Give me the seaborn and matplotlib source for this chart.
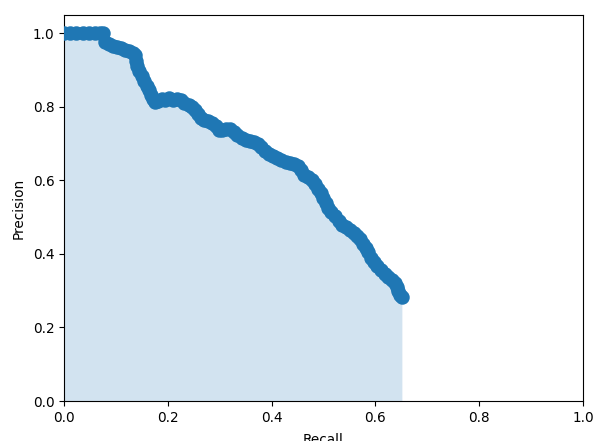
import numpy as np
import pandas as pd
import matplotlib
matplotlib.use("Agg")
import matplotlib.pyplot as plt
import seaborn as sns

recall = [0.0, 0.012, 0.024, 0.036, 0.048, 0.06, 0.07, 0.075,
          0.079, 0.086, 0.094, 0.102, 0.110, 0.118, 0.126, 0.133, 0.137, 0.138,
          0.140, 0.145, 0.150, 0.155, 0.160, 0.163, 0.167, 0.171, 0.176, 0.182,
          0.188, 0.195, 0.202, 0.210, 0.218, 0.225, 0.232, 0.240, 0.247, 0.253,
          0.258, 0.264, 0.270, 0.278, 0.285, 0.292, 0.298, 0.305, 0.312, 0.320,
          0.327, 0.334, 0.342, 0.350, 0.358, 0.366, 0.374, 0.380, 0.387, 0.395,
          0.403, 0.411, 0.419, 0.427, 0.435, 0.443, 0.450, 0.456, 0.463, 0.470,
          0.477, 0.484, 0.490, 0.495, 0.499, 0.504, 0.509, 0.515, 0.522, 0.529,
          0.536, 0.543, 0.551, 0.558, 0.565, 0.571, 0.576, 0.581, 0.586, 0.592,
          0.598, 0.604, 0.611, 0.618, 0.625, 0.632, 0.638, 0.641, 0.643, 0.648,
          0.651]
precision = [1.0, 1.0, 1.0, 1.0, 1.0, 1.0, 1.0, 1.0,
             0.976, 0.972, 0.965, 0.962, 0.960, 0.955, 0.951, 0.947, 0.940, 0.925,
             0.912, 0.897, 0.884, 0.870, 0.858, 0.845, 0.832, 0.822, 0.814, 0.816,
             0.822, 0.820, 0.823, 0.820, 0.822, 0.818, 0.810, 0.804, 0.800, 0.792,
             0.782, 0.770, 0.765, 0.763, 0.757, 0.748, 0.738, 0.736, 0.740, 0.739,
             0.731, 0.724, 0.716, 0.710, 0.706, 0.704, 0.700, 0.690, 0.680, 0.673,
             0.667, 0.662, 0.656, 0.650, 0.648, 0.646, 0.640, 0.628, 0.616, 0.608,
             0.600, 0.590, 0.578, 0.565, 0.552, 0.538, 0.525, 0.513, 0.502, 0.490,
             0.480, 0.472, 0.465, 0.458, 0.450, 0.440, 0.428, 0.416, 0.404, 0.390,
             0.378, 0.366, 0.355, 0.345, 0.337, 0.330, 0.322, 0.310, 0.298, 0.287,
             0.284]

ticks = [0.0, 0.2, 0.4, 0.6, 0.8, 1.0]
tick_labels = ["0.0", "0.2", "0.4", "0.6", "0.8", "1.0"]

df = pd.DataFrame({"Recall": recall, "Precision": precision})

plt.rcParams["font.family"] = ["DejaVu Sans"]
plt.rcParams["font.size"] = 9.8

fig = plt.figure(figsize=(5.96, 4.41), dpi=100)
ax = fig.add_axes([0.1074, 0.0907, 0.8708, 0.8753])

blue = "#1f77b4"
ax.fill_between(df["Recall"], df["Precision"], color=blue, alpha=0.2, linewidth=0)
sns.scatterplot(data=df, x="Recall", y="Precision", ax=ax, s=85, color=blue,
                edgecolor=blue, linewidth=1.2, zorder=3)

ax.set_xlim(0, 1)
ax.set_ylim(0, 1.05)
ax.set_xticks(ticks)
ax.set_xticklabels(tick_labels)
ax.set_yticks(ticks)
ax.set_yticklabels(tick_labels)
ax.set_xlabel("Recall", labelpad=6)
ax.set_ylabel("Precision", labelpad=5)

fig.savefig("out.png", dpi=100)
